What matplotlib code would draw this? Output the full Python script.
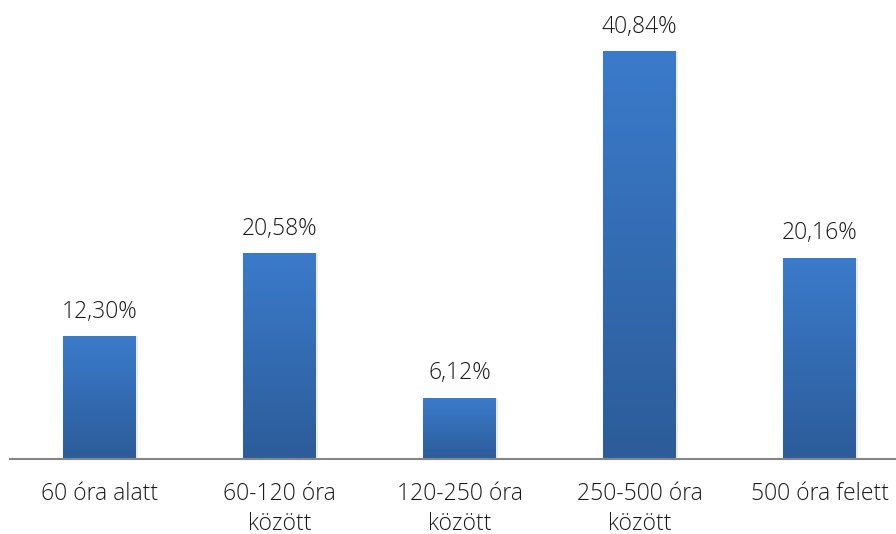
import matplotlib
matplotlib.use("Agg")
import matplotlib.pyplot as plt
import numpy as np
from matplotlib.colors import LinearSegmentedColormap

categories = ["60 óra alatt", "60-120 óra\nközött", "120-250 óra\nközött", "250-500 óra\nközött", "500 óra felett"]
values = [12.30, 20.58, 6.12, 40.84, 20.16]
value_labels = ["12,30%", "20,58%", "6,12%", "40,84%", "20,16%"]

plt.rcParams['font.family'] = ['Open Sans', 'DejaVu Sans']

W, H = 896, 534
fig = plt.figure(figsize=(W/100, H/100), dpi=100)
ax = fig.add_axes([9.5/W, 75/H, (896-9.5)/W, 459/H])

x = np.arange(len(values))
width = 0.405
cmap = LinearSegmentedColormap.from_list("g", ["#2c5c99", "#3b7bcb"])
grad = np.linspace(0, 1, 256).reshape(-1, 1)

bars = ax.bar(x, values, width=width, color="none", zorder=2)
for b in bars:
    x0, y0 = b.get_x(), b.get_y()
    w, h = b.get_width(), b.get_height()
    # soft shadow
    ax.bar(x0 + w/2 + 0.012, h, width=w, bottom=0, color="#000000", alpha=0.08, zorder=1)
    ax.imshow(grad, extent=[x0, x0 + w, 0, h], origin="lower", cmap=cmap,
              aspect="auto", zorder=3, interpolation="bicubic")

for xi, v, lab in zip(x, values, value_labels):
    ax.annotate(lab, (xi, v), xytext=(0, 13.5), textcoords="offset points",
                ha="center", va="baseline", fontsize=16.5, color="#1a1a1a",
                fontweight="light")

ax.set_xlim(-0.5, (896 - 99.5) / 180)
ax.set_ylim(0, 459 / 9.966)
ax.set_xticks(x)
ax.set_xticklabels(categories, fontsize=16.5, color="#1a1a1a", linespacing=1.33,
                   fontweight="light")
ax.tick_params(axis="x", length=0, pad=16.5)
ax.set_yticks([])
for s in ["top", "right", "left"]:
    ax.spines[s].set_visible(False)
ax.spines["bottom"].set_color("#868686")
ax.spines["bottom"].set_linewidth(1.5)
ax.spines["bottom"].set_zorder(5)

fig.savefig("out.png", dpi=100)
